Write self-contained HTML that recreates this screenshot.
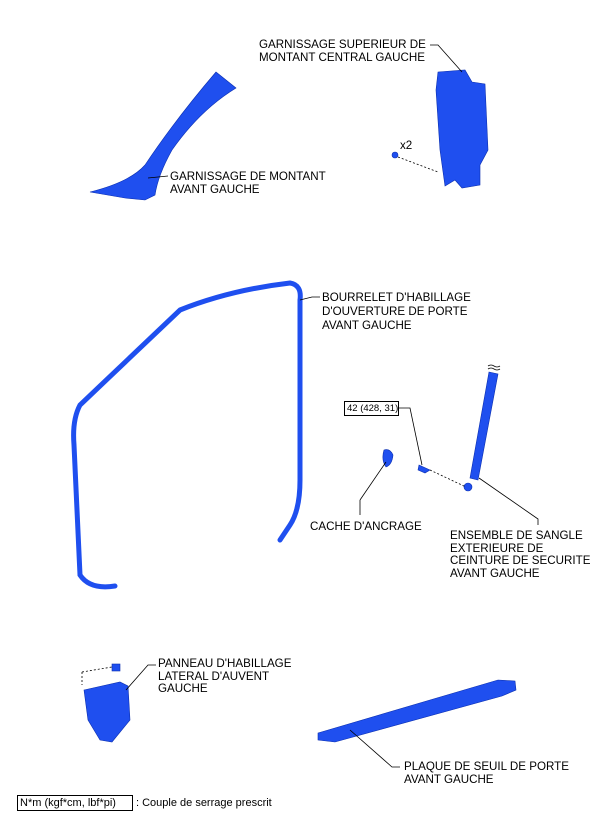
<!DOCTYPE html>
<html><head><style>
body{margin:0;width:604px;height:833px;background:#fff;position:relative;overflow:hidden;font-family:"Liberation Sans",sans-serif;font-size:11.6px;color:#000}
.t{position:absolute;line-height:13px;white-space:nowrap}
svg{position:absolute;left:0;top:0}
</style></head><body>
<svg width="604" height="833">
<g fill="#1f4fef" stroke="#0b2fb0" stroke-width="0.6">
<path d="M216 72 L236 88 Q200 110 172 150 Q158 175 155 195 L145 200 L125 198 L90 192 Q130 182 145 165 Q175 120 216 72 Z"/>
<path d="M438 72 L465 70 L472 82 L485 84 L488 150 L480 165 L480 185 L462 188 L455 180 L445 186 L440 150 L436 90 Z"/>
<circle cx="395" cy="155" r="3"/>
<path d="M489 372 L498 374 L478 480 L470 478 Z"/>
<circle cx="468" cy="487" r="4"/>
<path d="M384 450 Q381 460 386 467 Q392 465 393 455 Q390 448 384 450Z"/>
<path d="M419 465 L430 470 L425 473 L418 470Z"/>
<path d="M84 690 L120 682 L128 686 L130 720 L112 742 L100 740 L88 720 Z"/>
<rect x="112" y="664" width="8" height="7"/>
<path d="M318 733 L498 680 L515 681 L516 690 L502 696 L335 742 L318 740 Z"/>
</g>
<path d="M115 586 Q90 590 80 575 L74 445 Q72 420 80 405 L180 310 Q230 290 290 283 Q302 285 300 300 L300 480 Q300 510 290 525 L280 540" fill="none" stroke="#1f4fef" stroke-width="5" stroke-linecap="round"/>
<g fill="none" stroke="#000" stroke-width="0.8">
<path d="M430 45 L438 45 L462 72"/>
<path d="M168 176 L148 178"/>
<path d="M320 297 L312 297 L300 300"/>
<path d="M399 408 L410 408 L422 465"/>
<path d="M360 500 L360 515 M360 500 L386 462"/>
<path d="M538 525 L538 519 L479 478"/>
<path d="M156 665 L148 665 L126 690"/>
<path d="M400 767 L392 767 L350 730"/>
<path d="M398 157 L438 172 M82 672 L82 685 M82 672 L112 667 M430 470 L466 487" stroke-dasharray="2,2"/>
<path d="M488 366 q3 -2 6 0 t6 0 M488 369 q3 -2 6 0 t6 0"/>
</g>
<rect x="344.5" y="401.5" width="54" height="14" fill="none" stroke="#000"/>
<rect x="17.5" y="795.5" width="115" height="15" fill="none" stroke="#000"/>
</svg>
<div class="t" style="left:259px;top:38px">GARNISSAGE SUPERIEUR DE<br>MONTANT CENTRAL GAUCHE</div>
<div class="t" style="left:400px;top:139px">x2</div>
<div class="t" style="left:170px;top:170px">GARNISSAGE DE MONTANT<br>AVANT GAUCHE</div>
<div class="t" style="left:322px;top:291px;line-height:14px">BOURRELET D'HABILLAGE<br>D'OUVERTURE DE PORTE<br>AVANT GAUCHE</div>
<div class="t" style="left:347px;top:402px;font-size:9.5px">42 (428, 31)</div>
<div class="t" style="left:310px;top:520px">CACHE D'ANCRAGE</div>
<div class="t" style="left:450px;top:530px;line-height:12.5px">ENSEMBLE DE SANGLE<br>EXTERIEURE DE<br>CEINTURE DE SECURITE<br>AVANT GAUCHE</div>
<div class="t" style="left:158px;top:658px;line-height:12.5px">PANNEAU D'HABILLAGE<br>LATERAL D'AUVENT<br>GAUCHE</div>
<div class="t" style="left:404px;top:760px">PLAQUE DE SEUIL DE PORTE<br>AVANT GAUCHE</div>
<div class="t" style="left:20px;top:797px;font-size:11px">N*m (kgf*cm, lbf*pi)</div>
<div class="t" style="left:136px;top:797px;font-size:11px">: Couple de serrage prescrit</div>
</body></html>
